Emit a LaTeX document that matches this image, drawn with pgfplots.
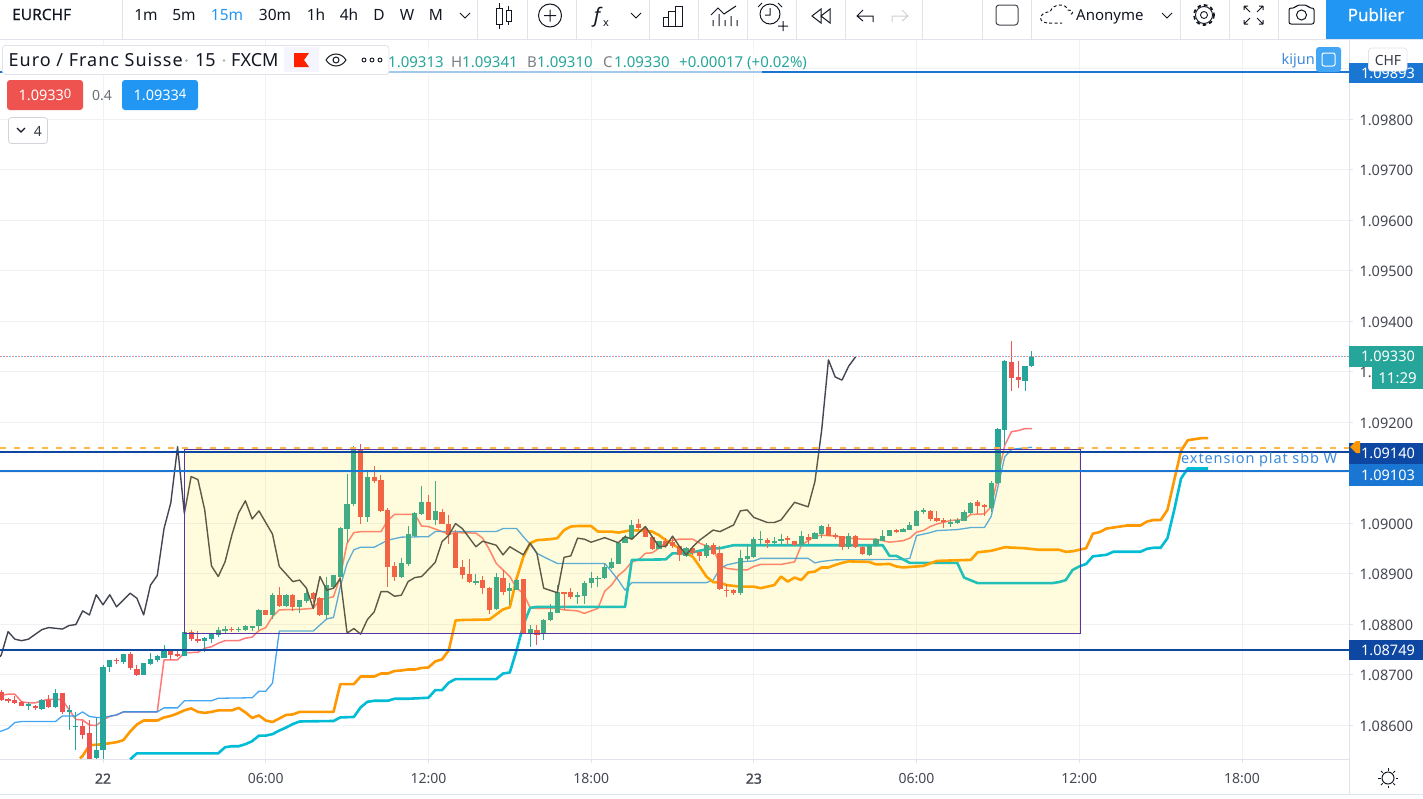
\documentclass[border=0pt]{standalone}
\usepackage{fontspec}
\setmainfont{Noto Sans}
\newfontfamily\fakeb[FakeBold=1.3]{Noto Sans}
\newfontfamily\semib[FakeBold=0.4]{Noto Sans}
\usepackage{pgfplots}
\usepackage{pgfplotstable}
\pgfplotsset{compat=1.18}
\definecolor{cgreen}{HTML}{26A69A}
\definecolor{cred}{HTML}{EF5350}
\definecolor{cblue}{HTML}{2196F3}
\definecolor{lblue}{HTML}{1976D2}
\definecolor{dblue}{HTML}{0D47A1}
\definecolor{corange}{HTML}{FF9800}
\definecolor{ccyan}{HTML}{00BCD4}
\definecolor{cdark}{HTML}{434651}
\definecolor{grid}{HTML}{EFF1F4}
\definecolor{edge}{HTML}{E0E3EB}
\definecolor{boxy}{HTML}{FFE000}
\definecolor{boxb}{HTML}{5A32A3}
\definecolor{ink}{HTML}{131722}
\definecolor{gtxt}{HTML}{454852}

% x = 15-minute bar number, 0 = 22 at 00:00. Columns: open high low close
\pgfplotstableread{
x o h l c
-11 1.08640 1.08646 1.08631 1.08642
-9 1.08634 1.08653 1.08632 1.08651
-7 1.08636 1.08673 1.08635 1.08663
-5 1.08626 1.08642 1.08591 1.08630
-4 1.08599 1.08626 1.08551 1.08600
-1 1.08536 1.08617 1.08534 1.08552
0 1.08552 1.08719 1.08534 1.08717
1 1.08716 1.08731 1.08706 1.08729
3 1.08725 1.08742 1.08723 1.08741
6 1.08701 1.08724 1.08699 1.08723
7 1.08721 1.08744 1.08720 1.08731
8 1.08729 1.08739 1.08725 1.08737
9 1.08734 1.08758 1.08732 1.08747
12 1.08737 1.08787 1.08737 1.08785
15 1.08767 1.08774 1.08745 1.08772
16 1.08770 1.08783 1.08762 1.08781
17 1.08780 1.08795 1.08774 1.08790
18 1.08789 1.08796 1.08780 1.08792
20 1.08790 1.08795 1.08786 1.08792
21 1.08790 1.08799 1.08787 1.08797
22 1.08796 1.08798 1.08788 1.08797
23 1.08797 1.08829 1.08789 1.08828
25 1.08818 1.08861 1.08809 1.08858
27 1.08836 1.08859 1.08834 1.08857
29 1.08834 1.08849 1.08822 1.08848
30 1.08846 1.08871 1.08844 1.08862
33 1.08818 1.08894 1.08811 1.08877
34 1.08874 1.08899 1.08873 1.08897
35 1.08895 1.08993 1.08894 1.08991
36 1.08989 1.09098 1.08960 1.09040
37 1.09038 1.09154 1.09034 1.09146
39 1.09013 1.09102 1.09003 1.09092
44 1.08894 1.08932 1.08892 1.08921
45 1.08919 1.08996 1.08917 1.08978
46 1.08976 1.09022 1.08972 1.09020
47 1.09019 1.09073 1.09015 1.09044
49 1.09007 1.09084 1.08996 1.09024
55 1.08884 1.08900 1.08877 1.08886
58 1.08830 1.08902 1.08829 1.08893
60 1.08866 1.08881 1.08838 1.08871
61 1.08869 1.08890 1.08867 1.08889
63 1.08782 1.08800 1.08756 1.08790
65 1.08780 1.08811 1.08768 1.08809
66 1.08808 1.08841 1.08807 1.08824
67 1.08822 1.08877 1.08821 1.08863
70 1.08854 1.08864 1.08840 1.08858
71 1.08856 1.08886 1.08841 1.08883
72 1.08882 1.08904 1.08871 1.08892
73 1.08892 1.08896 1.08873 1.08893
74 1.08892 1.08921 1.08890 1.08914
75 1.08912 1.08931 1.08910 1.08923
76 1.08921 1.08963 1.08920 1.08962
77 1.08960 1.08976 1.08960 1.08973
78 1.08970 1.09007 1.08968 1.08998
82 1.08950 1.08966 1.08950 1.08965
86 1.08937 1.08954 1.08933 1.08952
89 1.08936 1.08960 1.08930 1.08958
94 1.08861 1.08947 1.08859 1.08931
95 1.08929 1.08956 1.08925 1.08935
96 1.08933 1.08973 1.08932 1.08968
97 1.08968 1.08985 1.08958 1.08969
99 1.08962 1.08974 1.08960 1.08966
100 1.08965 1.08978 1.08958 1.08970
103 1.08956 1.08984 1.08955 1.08974
105 1.08969 1.08983 1.08968 1.08981
106 1.08979 1.08997 1.08970 1.08994
110 1.08952 1.08982 1.08950 1.08974
113 1.08938 1.08958 1.08935 1.08956
114 1.08954 1.08971 1.08953 1.08969
115 1.08966 1.08988 1.08965 1.08976
116 1.08975 1.08987 1.08974 1.08987
118 1.08984 1.08991 1.08982 1.08990
119 1.08987 1.09001 1.08986 1.08997
120 1.08995 1.09027 1.08994 1.09025
121 1.09024 1.09031 1.09020 1.09027
125 1.09002 1.09007 1.08993 1.09003
126 1.09001 1.09011 1.08998 1.09007
127 1.09005 1.09026 1.09004 1.09023
128 1.09021 1.09044 1.09019 1.09042
131 1.09031 1.09085 1.09024 1.09081
132 1.09080 1.09189 1.09078 1.09187
133 1.09185 1.09323 1.09154 1.09321
136 1.09283 1.09313 1.09262 1.09311
137 1.09313 1.09341 1.09310 1.09330
}\upbars
\pgfplotstableread{
x o h l c
-15 1.08666 1.08669 1.08648 1.08650
-14 1.08652 1.08655 1.08644 1.08648
-13 1.08650 1.08659 1.08643 1.08644
-12 1.08646 1.08648 1.08638 1.08638
-10 1.08639 1.08640 1.08631 1.08634
-8 1.08651 1.08661 1.08636 1.08636
-6 1.08663 1.08664 1.08623 1.08626
-3 1.08599 1.08610 1.08574 1.08582
-2 1.08585 1.08610 1.08534 1.08534
2 1.08729 1.08733 1.08721 1.08727
4 1.08741 1.08745 1.08710 1.08712
5 1.08713 1.08721 1.08698 1.08700
10 1.08747 1.08749 1.08729 1.08739
11 1.08741 1.08749 1.08735 1.08737
13 1.08785 1.08788 1.08767 1.08770
14 1.08770 1.08788 1.08764 1.08766
19 1.08792 1.08795 1.08785 1.08790
24 1.08828 1.08829 1.08818 1.08819
26 1.08857 1.08874 1.08834 1.08836
28 1.08857 1.08859 1.08826 1.08834
31 1.08861 1.08863 1.08841 1.08850
32 1.08852 1.08854 1.08816 1.08818
38 1.09146 1.09158 1.08999 1.09013
40 1.09092 1.09113 1.09079 1.09084
41 1.09086 1.09096 1.09022 1.09024
42 1.09026 1.09032 1.08875 1.08914
43 1.08915 1.08923 1.08885 1.08894
48 1.09044 1.09055 1.09006 1.09007
50 1.09024 1.09029 1.08998 1.08999
51 1.08999 1.09017 1.08960 1.08978
52 1.08981 1.08986 1.08910 1.08912
53 1.08914 1.08929 1.08890 1.08898
54 1.08899 1.08929 1.08881 1.08884
56 1.08887 1.08897 1.08861 1.08872
57 1.08873 1.08875 1.08822 1.08830
59 1.08893 1.08907 1.08858 1.08865
62 1.08889 1.08889 1.08782 1.08782
64 1.08789 1.08800 1.08759 1.08779
68 1.08864 1.08865 1.08829 1.08862
69 1.08863 1.08873 1.08851 1.08854
79 1.08998 1.09007 1.08987 1.08989
80 1.08990 1.08995 1.08972 1.08973
81 1.08974 1.08976 1.08948 1.08950
83 1.08965 1.08972 1.08953 1.08955
84 1.08963 1.08972 1.08953 1.08955
85 1.08955 1.08956 1.08927 1.08937
87 1.08952 1.08956 1.08939 1.08942
88 1.08943 1.08945 1.08925 1.08936
90 1.08958 1.08960 1.08937 1.08940
91 1.08941 1.08956 1.08869 1.08869
92 1.08869 1.08881 1.08855 1.08867
93 1.08867 1.08871 1.08859 1.08861
98 1.08968 1.08972 1.08953 1.08961
101 1.08970 1.08974 1.08957 1.08966
102 1.08965 1.08966 1.08956 1.08957
104 1.08974 1.08978 1.08958 1.08968
107 1.08994 1.08999 1.08975 1.08976
108 1.08976 1.08981 1.08969 1.08972
109 1.08974 1.08976 1.08949 1.08952
111 1.08974 1.08976 1.08950 1.08952
112 1.08952 1.08954 1.08937 1.08938
117 1.08987 1.08989 1.08982 1.08984
122 1.09026 1.09027 1.09005 1.09009
123 1.09010 1.09026 1.09003 1.09004
124 1.09006 1.09011 1.08990 1.09003
129 1.09043 1.09047 1.09019 1.09034
130 1.09036 1.09038 1.09014 1.09032
134 1.09321 1.09361 1.09262 1.09288
135 1.09290 1.09321 1.09269 1.09283
}\downbars

\pgfplotsset{
 wick/.style n args={1}{forget plot, no marks, draw=none, error bars/.cd, y dir=both, y explicit, error mark=none, error bar style={draw=#1, line width=1pt}},
 body/.style n args={1}{forget plot, no marks, draw=none, error bars/.cd, y dir=both, y explicit, error mark=none, error bar style={draw=#1, line width=5.2pt}},
}
\newcommand\fs[1]{\fontsize{#1}{#1}\selectfont}
\newcommand\sep[1]{\draw[edge,line width=1pt] (#1,0)--(#1,39);}

\begin{document}
\begin{tikzpicture}
\path[use as bounding box] (0,0) rectangle (1423pt,-798pt);
\begin{axis}[
 at={(0pt,-759pt)}, anchor=south west,
 scale only axis, width=1349pt, height=719pt,
 xmin=-15.192, xmax=183.776, ymin=1.085327, ymax=1.099564,
 axis x line*=bottom, axis y line*=right,
 axis line style={draw=edge, line width=1pt, -},
 tick style={draw=edge, line width=0.8pt},
 major tick length=4pt, tick align=outside,
 grid=major, grid style={draw=grid, line width=0.9pt},
 xtick={0,24,48,72,96,120,144,168},
 xticklabels={{\fakeb 22},06:00,12:00,18:00,{\fakeb 23},06:00,12:00,18:00},
 ytick={1.086,1.087,1.088,1.089,1.09,1.091,1.092,1.093,1.094,1.095,1.096,1.097,1.098,1.099},
 scaled y ticks=false,
 yticklabel style={font=\fs{14.5}, text=gtxt, anchor=west, xshift=3pt, yshift=-1.2pt,
   /pgf/number format/fixed, /pgf/number format/fixed zerofill,
   /pgf/number format/precision=5, /pgf/number format/assume math mode=true},
 xticklabel style={font=\fs{14}, text=gtxt, yshift=-7pt},
 clip=true,
]
% tenkan
\addplot[forget plot, color=red!75!white, opacity=.7, line width=1.5pt, line join=round, no marks] coordinates {
(-15.192,1.08660)(-15,1.08659)(-14,1.08661)(-13,1.08661)(-12,1.08646)(-11,1.08644)(-10,1.08644)(-9,1.08648)(-8,1.08651)(-7,1.08651)(-6,1.08650)(-5,1.08630)(-4,1.08611)(-3,1.08610)(-2,1.08600)(-1,1.08599)(0,1.08610)(1,1.08617)(2,1.08620)(3,1.08626)(8,1.08626)(9,1.08729)(11,1.08729)(12,1.08743)(14,1.08744)(15,1.08752)(16,1.08755)(17,1.08762)(18,1.08767)(20,1.08767)(21,1.08772)(22,1.08774)(23,1.08787)(24,1.08793)(25,1.08815)(26,1.08828)(29,1.08829)(31,1.08831)(32,1.08848)(33,1.08851)(34,1.08854)(35,1.08894)(36,1.08960)(37,1.08981)(38,1.08983)(41,1.08983)(42,1.09005)(43,1.09017)(46,1.09017)(47,1.08994)(48,1.08993)(50,1.08983)(51,1.08978)(52,1.08981)(55,1.08980)(56,1.08970)(57,1.08947)(58,1.08920)(59,1.08907)(60,1.08894)(61,1.08871)(62,1.08861)(63,1.08832)(64,1.08831)(67,1.08831)(68,1.08828)(70,1.08826)(71,1.08821)(73,1.08831)(74,1.08865)(75,1.08877)(76,1.08896)(77,1.08907)(78,1.08923)(79,1.08927)(80,1.08940)(81,1.08941)(82,1.08950)(83,1.08963)(85,1.08968)(87,1.08968)(88,1.08960)(89,1.08955)(90,1.08950)(91,1.08917)(92,1.08910)(94,1.08907)(95,1.08907)(96,1.08914)(97,1.08918)(100,1.08918)(102,1.08923)(103,1.08956)(104,1.08965)(105,1.08974)(106,1.08976)(108,1.08974)(110,1.08970)(112,1.08968)(114,1.08968)(116,1.08962)(118,1.08965)(119,1.08970)(120,1.08982)(121,1.08985)(122,1.08993)(123,1.08998)(125,1.09005)(127,1.09007)(128,1.09017)(130,1.09018)(131,1.09032)(132,1.09092)(133,1.09154)(134,1.09181)(135,1.09183)(136,1.09187)(137,1.09187)};
% kijun
\addplot[forget plot, color=cblue, opacity=.85, line width=1.3pt, line join=round, no marks] coordinates {
(-15.192,1.08587)(-15,1.08588)(-14,1.08593)(-13,1.08605)(-12,1.08607)(-7,1.08607)(-6,1.08618)(-4,1.08618)(-3,1.08626)(-2,1.08617)(-1,1.08615)(0,1.08615)(2,1.08620)(3,1.08626)(8,1.08626)(9,1.08634)(11,1.08634)(12,1.08648)(16,1.08648)(17,1.08653)(22,1.08654)(23,1.08667)(24,1.08667)(25,1.08683)(26,1.08786)(31,1.08786)(32,1.08798)(33,1.08810)(34,1.08813)(35,1.08874)(36,1.08920)(37,1.08947)(38,1.08952)(40,1.08952)(42,1.08966)(44,1.08972)(48,1.08973)(49,1.08983)(58,1.08983)(59,1.08989)(61,1.08989)(62,1.08973)(63,1.08958)(64,1.08940)(65,1.08933)(67,1.08920)(74,1.08920)(75,1.08904)(76,1.08887)(77,1.08867)(78,1.08882)(89,1.08882)(90,1.08887)(91,1.08910)(92,1.08917)(94,1.08923)(96,1.08925)(97,1.08930)(104,1.08930)(105,1.08921)(106,1.08924)(108,1.08927)(118,1.08928)(119,1.08930)(120,1.08975)(121,1.08978)(122,1.08981)(123,1.08985)(126,1.08987)(128,1.08991)(130,1.08991)(131,1.09013)(132,1.09072)(133,1.09131)(134,1.09146)(137,1.09150)};
% senkou B
\addplot[forget plot, color=ccyan, line width=2.6pt, line join=round, no marks] coordinates {
(4,1.08532)(5,1.08544)(17,1.08544)(18,1.08556)(19,1.08558)(20,1.08558)(21,1.08562)(22,1.08568)(23,1.08579)(24,1.08579)(25,1.08582)(26,1.08589)(27,1.08595)(28,1.08602)(29,1.08607)(34,1.08608)(35,1.08615)(37,1.08616)(38,1.08635)(39,1.08646)(40,1.08648)(42,1.08648)(43,1.08652)(45,1.08652)(48,1.08654)(49,1.08669)(50,1.08669)(51,1.08684)(52,1.08691)(58,1.08691)(59,1.08702)(60,1.08704)(61,1.08748)(62,1.08798)(63,1.08832)(64,1.08834)(77,1.08834)(78,1.08927)(83,1.08928)(84,1.08940)(86,1.08940)(87,1.08942)(88,1.08945)(89,1.08948)(90,1.08950)(91,1.08950)(92,1.08953)(93,1.08956)(115,1.08956)(116,1.08935)(117,1.08935)(118,1.08928)(119,1.08921)(126,1.08921)(127,1.08892)(129,1.08881)(140,1.08881)(141,1.08883)(142,1.08887)(143,1.08907)(144,1.08914)(145,1.08919)(146,1.08934)(148,1.08937)(149,1.08943)(153,1.08943)(154,1.08949)(155,1.08951)(156,1.08951)(157,1.08970)(158,1.09026)(159,1.09088)(160,1.09108)(163,1.09108)};
% senkou A
\addplot[forget plot, color=corange, line width=2.6pt, line join=round, no marks] coordinates {
(-3.4,1.08534)(-3,1.08539)(-2,1.08560)(0,1.08562)(1,1.08564)(2,1.08566)(3,1.08570)(4,1.08587)(5,1.08601)(6,1.08609)(8,1.08609)(9,1.08615)(10,1.08618)(11,1.08623)(12,1.08629)(13,1.08633)(14,1.08626)(15,1.08624)(16,1.08626)(17,1.08629)(19,1.08629)(20,1.08634)(21,1.08625)(22,1.08614)(23,1.08619)(24,1.08609)(25,1.08606)(26,1.08613)(27,1.08620)(28,1.08621)(29,1.08626)(34,1.08626)(35,1.08681)(37,1.08681)(38,1.08696)(40,1.08696)(41,1.08702)(42,1.08702)(43,1.08707)(44,1.08708)(45,1.08710)(46,1.08710)(47,1.08713)(48,1.08714)(49,1.08726)(50,1.08730)(51,1.08748)(52,1.08807)(53,1.08808)(57,1.08809)(58,1.08819)(59,1.08829)(60,1.08833)(61,1.08890)(62,1.08933)(63,1.08960)(64,1.08966)(66,1.08968)(67,1.08970)(68,1.08986)(69,1.08993)(70,1.08994)(72,1.08994)(73,1.08983)(75,1.08983)(76,1.08981)(78,1.08986)(81,1.08983)(82,1.08976)(83,1.08966)(85,1.08950)(86,1.08941)(87,1.08933)(88,1.08914)(89,1.08894)(90,1.08883)(91,1.08882)(92,1.08877)(94,1.08874)(96,1.08874)(97,1.08871)(99,1.08877)(100,1.08894)(101,1.08884)(102,1.08892)(103,1.08887)(104,1.08902)(105,1.08904)(106,1.08912)(107,1.08912)(108,1.08917)(109,1.08921)(110,1.08924)(113,1.08923)(114,1.08918)(116,1.08919)(117,1.08914)(118,1.08912)(121,1.08915)(123,1.08925)(128,1.08927)(129,1.08942)(131,1.08945)(133,1.08952)(136,1.08950)(138,1.08947)(141,1.08947)(142,1.08943)(143,1.08944)(145,1.08950)(146,1.08979)(147,1.08982)(148,1.08989)(150,1.08993)(151,1.08995)(153,1.08995)(154,1.09003)(155,1.09006)(156,1.09006)(157,1.09026)(158,1.09085)(159,1.09143)(160,1.09164)(161,1.09166)(162,1.09168)(163,1.09168)};
% candles
\addplot[wick=cgreen] table[x=x, y expr={(\thisrow{h}+\thisrow{l})/2}, y error expr={(\thisrow{h}-\thisrow{l})/2}] {\upbars};
\addplot[wick=cred] table[x=x, y expr={(\thisrow{h}+\thisrow{l})/2}, y error expr={(\thisrow{h}-\thisrow{l})/2}] {\downbars};
\addplot[body=cgreen] table[x=x, y expr={(\thisrow{o}+\thisrow{c})/2}, y error expr={(\thisrow{c}-\thisrow{o})/2}] {\upbars};
\addplot[body=cred] table[x=x, y expr={(\thisrow{o}+\thisrow{c})/2}, y error expr={(\thisrow{o}-\thisrow{c})/2}] {\downbars};
% chikou
\addplot[forget plot, color=cdark, line width=1.4pt, line join=round, no marks] coordinates {
(-15.192,1.08735)(-15,1.08739)(-14,1.08785)(-13,1.08770)(-12,1.08767)(-11,1.08770)(-9,1.08789)(-8,1.08793)(-6,1.08790)(-5,1.08797)(-4,1.08799)(-3,1.08826)(-2,1.08818)(-1,1.08858)(0,1.08838)(1,1.08858)(2,1.08834)(4,1.08861)(5,1.08851)(6,1.08818)(7,1.08877)(8,1.08896)(9,1.08989)(10,1.09040)(11,1.09151)(12,1.09019)(13,1.09092)(14,1.09086)(15,1.09026)(16,1.08915)(17,1.08894)(18,1.08923)(19,1.08976)(20,1.09020)(21,1.09044)(22,1.09008)(23,1.09024)(24,1.09001)(25,1.08978)(26,1.08914)(27,1.08899)(28,1.08884)(29,1.08887)(30,1.08871)(31,1.08831)(32,1.08894)(33,1.08867)(34,1.08871)(35,1.08890)(36,1.08782)(37,1.08791)(38,1.08780)(39,1.08809)(40,1.08824)(41,1.08864)(42,1.08864)(43,1.08855)(44,1.08857)(45,1.08884)(46,1.08892)(47,1.08894)(48,1.08908)(49,1.08922)(50,1.08963)(51,1.08976)(52,1.08999)(53,1.08989)(55,1.08953)(56,1.08964)(58,1.08956)(59,1.08937)(60,1.08953)(62,1.08937)(63,1.08960)(64,1.08940)(65,1.08871)(67,1.08862)(68,1.08932)(69,1.08935)(70,1.08970)(71,1.08968)(72,1.08962)(74,1.08971)(76,1.08961)(77,1.08973)(78,1.08968)(80,1.08993)(82,1.08953)(83,1.08954)(84,1.08974)(85,1.08954)(86,1.08937)(87,1.08953)(88,1.08966)(90,1.08986)(91,1.08983)(93,1.08996)(94,1.09024)(95,1.09026)(96,1.09011)(98,1.09001)(99,1.09001)(100,1.09006)(102,1.09041)(104,1.09032)(105,1.09082)(106,1.09184)(107,1.09323)(108,1.09289)(109,1.09283)(110,1.09311)(111,1.09329)};
% rectangle
\addplot[forget plot, fill=boxy, fill opacity=.135, draw=boxb, line width=1pt, no marks] coordinates {(12.09,1.08782)(144.1,1.08782)(144.1,1.09146)(12.09,1.09146)} --cycle;
% horizontal lines
\addplot[forget plot, draw=corange!70!white, line width=1.6pt, dash pattern=on 6pt off 8pt, no marks] coordinates {(-15.192,1.09149)(183.776,1.09149)};
\addplot[forget plot, color=dblue, line width=2pt, no marks] coordinates {(-15.192,1.09140)(183.776,1.09140)};
\addplot[forget plot, color=lblue, line width=1.8pt, no marks] coordinates {(-15.192,1.09103)(183.776,1.09103)};
\addplot[forget plot, color=dblue, line width=2.2pt, no marks] coordinates {(-15.192,1.08749)(183.776,1.08749)};
\addplot[forget plot, color=lblue, line width=1.8pt, no marks] coordinates {(-15.192,1.09893)(183.776,1.09893)};
\addplot[forget plot, color=cred!70!white, line width=1.3pt, dash pattern=on 1.6pt off 4.4pt, no marks] coordinates {(-15.192,1.09330)(183.776,1.09330)};
\addplot[forget plot, color=cblue!70!white, line width=1.3pt, dash pattern=on 1.6pt off 4.4pt, dash phase=3pt, no marks] coordinates {(-15.192,1.09330)(183.776,1.09330)};
\end{axis}

\begin{scope}[x=1pt,y=-1pt]
% panel lines
\draw[edge,line width=1pt] (1349,40)--(1349,794);
\draw[edge,line width=1pt] (0,794.5)--(1423,794.5);
\draw[edge,line width=1pt] (0,39.5)--(1423,39.5);
% toolbar
\foreach \s in {122,477,527,576,649,698,747,796,845,922,982,1031,1180,1229,1278}{\sep{\s}}
\fill[cblue] (1326,0) rectangle (1423,39);
\node[anchor=base west,inner sep=0,text=ink] at (12,20) {\fs{15.5}\semib EURCHF};
\begin{scope}[every node/.style={inner sep=0,text=ink}]
\foreach \x/\t in {146/1m,184/5m,275/30m,316/1h,349/4h,379/D,407/W,436/M}{\node[anchor=base] at (\x,20.5) {\fs{15.5}\t};}
\node[anchor=base,text=cblue] at (227,20.5) {\fs{15.5}15m};
\end{scope}
\draw[ink,line width=1pt] (460,13)--(465,18)--(470,13);
\draw[ink,line width=1pt] (631,13)--(636,18)--(641,13);
\draw[ink,line width=1pt] (1162,13)--(1167,18)--(1172,13);
% candle icon
\draw[ink,line width=1pt] (496,8) rectangle (502,24) (499,3)--(499,8) (499,24)--(499,29) (506,10) rectangle (511,21) (508.5,6)--(508.5,10) (508.5,21)--(508.5,25);
% plus
\draw[ink,line width=1pt] (550,15.5) circle (11.5) (544,15.5)--(556,15.5) (550,9.5)--(550,21.5);
% fx
\node[anchor=base,inner sep=0,text=ink] at (597,22) {\fs{20}\itshape f};
\node[anchor=base,inner sep=0,text=ink] at (606,26) {\fs{11}x};
% bars
\draw[ink,line width=1pt] (663,26) rectangle (668,17) (668,26) rectangle (675,11) (675,26) rectangle (682,6);
% indicators
\draw[ink,line width=1pt] (711,15)--(718,8)--(724,14)--(736,6) (713,26)--(713,20) (719,26)--(719,14) (725,26)--(725,20) (731,26)--(731,16) (737,26)--(737,20);
% alarm
\draw[ink,line width=1pt] (770,14) circle (10) (770,8)--(770,15)--(765,15) (762,3)--(758,7) (778,3)--(782,7) (778,26)--(788,26) (783,21)--(783,31);
% rewind
\draw[ink,line width=1pt] (821,9)--(812,16)--(821,23)--cycle (830,9)--(821,16)--(830,23)--cycle;
% undo redo
\draw[ink,line width=1pt] (873,22)--(873,16)--(858,16) (863,10)--(857,16)--(863,21);
\draw[edge!80!gray,line width=1pt] (892,22)--(892,16)--(907,16) (902,10)--(908,16)--(902,21);
% square
\draw[ink!80,line width=1pt,rounded corners=3pt] (996,5) rectangle (1018,25);
% cloud
\draw[ink,line width=1pt,dash pattern=on 3pt off 2.5pt] (1047,23) .. controls (1035,21) and (1042,11) .. (1050,12) .. controls (1053,3) and (1066,3) .. (1068,10) .. controls (1074,10) and (1074,14) .. (1069,15) (1049,23)--(1062,23);
\node[anchor=base west,inner sep=0,text=ink] at (1076,20.5) {\fs{15}Anonyme};
% gear
\draw[ink,line width=.9pt] (1204,15) circle (3.5);
\draw[ink,line width=.9pt] (1204,15) circle (8.5);
\draw[ink,line width=1.8pt,dash pattern=on 3.6pt off 3.07pt] (1204,15) circle (10);
% expand
\draw[ink,line width=1pt] (1244,6)--(1250,12) (1244,6)--(1244,10) (1244,6)--(1248,6) (1263,6)--(1257,12) (1263,6)--(1263,10) (1263,6)--(1259,6) (1244,24)--(1250,18) (1244,24)--(1244,20) (1244,24)--(1248,24) (1263,24)--(1257,18) (1263,24)--(1263,20) (1263,24)--(1259,24);
% camera
\draw[ink,line width=1pt,rounded corners=2pt] (1289,8)--(1295,8)--(1297,5)--(1307,5)--(1309,8)--(1314,8)--(1314,24)--(1289,24)--cycle;
\draw[ink,line width=1pt] (1301.5,15) circle (5);
\node[anchor=base,inner sep=0,text=white] at (1376,21) {\fs{17}\semib Publier};
% legend
\fill[white,fill opacity=.6] (388,49) rectangle (762,76);
\filldraw[draw=edge,fill=white,line width=.8pt,rounded corners=3pt] (2.5,45.5) rectangle (389,74.5);
\node[anchor=base west,inner sep=0,text=ink] at (8.5,66) {\fs{18}\addfontfeatures{LetterSpace=5.5}Euro / Franc Suisse};
\fill[gtxt!45] (186.5,60.5) circle (1.4);
\node[anchor=base west,inner sep=0,text=ink] at (195,66) {\fs{18}15};
\fill[gtxt!45] (224,60.5) circle (1.4);
\node[anchor=base west,inner sep=0,text=ink] at (231,66) {\fs{18}FXCM};
\fill[blue!4!white] (284,47) rectangle (319,72);
\fill[red!75!orange] (294,53) -- (309,53) -- (304,60) -- (309,67) -- (294,67)--cycle;
\draw[ink,line width=1pt] (326,60) .. controls (331,52) and (341,52) .. (346,60) .. controls (341,68) and (331,68) .. (326,60);
\draw[ink,line width=1pt] (336,60) circle (3);
\draw[ink,line width=.9pt] (364,60) circle (2) (372,60) circle (2) (380,60) circle (2);
% OHLC
\begin{scope}[every node/.style={anchor=base west,inner sep=0}]
\node[text=cgreen] at (388,67) {\fs{15}1.09313};
\node[text=gtxt!70] at (451,67) {\fs{15}H};
\node[text=cgreen] at (462,67) {\fs{15}1.09341};
\node[text=gtxt!70] at (527,67) {\fs{15}B};
\node[text=cgreen] at (537,67) {\fs{15}1.09310};
\node[text=gtxt!70] at (603,67) {\fs{15}C};
\node[text=cgreen] at (614,67) {\fs{15}1.09330};
\node[text=cgreen] at (679,67) {\fs{15}+0.00017 (+0.02\%)};
\end{scope}
% bid ask
\fill[cred,rounded corners=3pt] (7,80) rectangle (83,110);
\fill[cblue,rounded corners=3pt] (122,80) rectangle (198,110);
\node[anchor=base,inner sep=0,text=white] at (45,100) {\fs{14.5}1.0933\raisebox{2pt}{\fs{13}0}};
\node[anchor=base,inner sep=0,text=white] at (160,100) {\fs{14.5}1.0933\raisebox{2pt}{\fs{13}4}};
\node[anchor=base,inner sep=0,text=gtxt!80] at (102,100) {\fs{14}0.4};
\draw[edge!85!gray,line width=.8pt,rounded corners=3pt,fill=white] (8.5,117.5) rectangle (47.5,143.5);
\draw[ink,line width=1.1pt] (17,128)--(21,132)--(25,128);
\node[anchor=base,inner sep=0,text=ink!85] at (38,136) {\fs{14}4};
% right side
\node[anchor=base east,inner sep=0,text=lblue!85] at (1315,64.5) {\fs{14.5}kijun};
\fill[cblue!85,rounded corners=3pt] (1316,47) rectangle (1341,72);
\draw[white,line width=1pt,rounded corners=2pt] (1322,53) rectangle (1335,66);
\fill[lblue] (1349,63) rectangle (1423,83);
\node[anchor=base,inner sep=0,text=white] at (1388,78) {\fs{14.5}1.09893};
\filldraw[draw=edge,fill=white,line width=.8pt,rounded corners=3pt] (1368.5,48) rectangle (1407,71);
\node[anchor=base,inner sep=0,text=ink!85] at (1388,65) {\fs{14}CHF};
% labels
\fill[cgreen] (1349,346) rectangle (1423,367);
\node[anchor=base,inner sep=0,text=white] at (1388,361.5) {\fs{14.5}1.09330};
\fill[cgreen] (1372,367) rectangle (1423,389);
\node[anchor=base,inner sep=0,text=white] at (1397.5,383) {\fs{15}11:29};
\fill[dblue] (1349,443) rectangle (1423,464);
\node[anchor=base,inner sep=0,text=white] at (1388,458) {\fs{14.5}1.09140};
\fill[lblue] (1349,464) rectangle (1423,486);
\node[anchor=base,inner sep=0,text=white] at (1388,480) {\fs{14.5}1.09103};
\fill[dblue] (1349,640) rectangle (1423,660);
\node[anchor=base,inner sep=0,text=white] at (1388,655) {\fs{14.5}1.08749};
\fill[corange] (1350,447)--(1356,441)--(1360,441)--(1360,453)--(1356,453)--cycle;
\node[anchor=base west,inner sep=0,text=lblue!85] at (1181,463) {\fs{14.5}\addfontfeatures{LetterSpace=6}extension plat sbb W};
% sun
\draw[ink,line width=1pt] (1388,778) circle (6);
\foreach \a in {0,45,...,315}{\draw[ink,line width=1pt] (1388,778)++(\a:7.5)--++(\a:2.5);}
\end{scope}
\end{tikzpicture}
\end{document}
